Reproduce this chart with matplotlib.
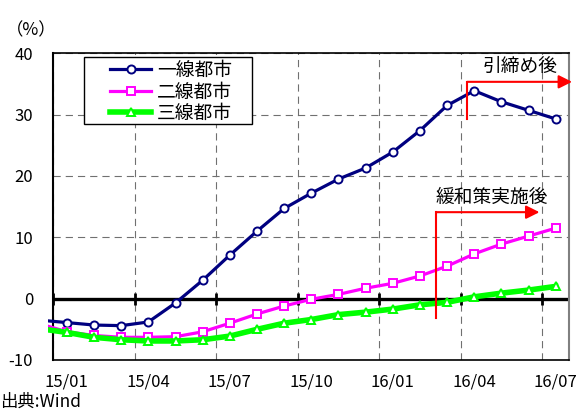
import matplotlib
matplotlib.use('Agg')
import matplotlib.pyplot as plt
import numpy as np
from matplotlib.patches import Rectangle
from matplotlib.ticker import FixedLocator, FixedFormatter, NullFormatter

plt.rcParams['font.family'] = ['Noto Sans CJK JP', 'DejaVu Sans']
plt.rcParams['axes.unicode_minus'] = False

# ---- data ----
months = ['14/12', '15/01', '15/02', '15/03', '15/04', '15/05', '15/06', '15/07',
          '15/08', '15/09', '15/10', '15/11', '15/12', '16/01', '16/02',
          '16/03', '16/04', '16/05', '16/06', '16/07']
tier1 = [-3.5, -3.9, -4.3, -4.4, -3.8, -0.7, 3.0, 7.1, 11.0, 14.7, 17.2, 19.5,
         21.3, 23.9, 27.4, 31.5, 33.9, 32.1, 30.7, 29.3]
tier2 = [-4.1, -5.4, -6.0, -6.3, -6.3, -6.2, -5.4, -4.0, -2.5, -1.2, -0.1, 0.7,
         1.7, 2.5, 3.7, 5.3, 7.3, 8.9, 10.2, 11.5]
tier3 = [-4.9, -5.5, -6.3, -6.7, -6.9, -6.9, -6.7, -6.1, -5.0, -4.0, -3.4, -2.6,
         -2.2, -1.7, -1.0, -0.6, 0.3, 0.9, 1.4, 2.0]
series_names = ['一線都市', '二線都市', '三線都市']
y_ticks = [-10, 0, 10, 20, 30, 40]
y_tick_labels = ['-10', '0', '10', '20', '30', '40']

# annotation positions (in data units)
ann_tighten = dict(label='引締め後', x=15.25, y0=29.3, y1=35.35, tip=19.1, tx=17.2, ty=37.8)
ann_ease = dict(label='緩和策実施後', x=14.1, y0=-3.1, y1=14.1, tip=17.9, tx=16.15, ty=16.5)

# ---- figure ----
fig = plt.figure(figsize=(5.87, 4.11), dpi=100)
ax = fig.add_axes([0.0908, 0.1241, 0.8791, 0.7462])

n = len(months)
x = np.arange(n) - 0.5
ax.set_xlim(0, n - 1)
ax.set_ylim(y_ticks[0], y_ticks[-1])

# extended clip region (lines run slightly past the left spine)
clip_rect = Rectangle((-0.011, 0), 1.011, 1, transform=ax.transAxes,
                      facecolor='none', edgecolor='none')
ax.add_patch(clip_rect)

styles = [
    dict(color='#000080', lw=2.3, marker='o', ms=5.8, mfc='white', mec='#000080', mew=1.4),
    dict(color='#FF00FF', lw=2.3, marker='s', ms=5.8, mfc='white', mec='#FF00FF', mew=1.4),
    dict(color='#00FF00', lw=4.0, marker='^', ms=6.0, mfc='white', mec='#00FF00', mew=1.4),
]

# zero line with tick marks at category boundaries
boundaries = list(range(0, n, 3))
ax.axhline(0, color='black', lw=2.4, zorder=2)
ax.plot(boundaries, [0] * len(boundaries), linestyle='none', marker='|', ms=8,
        mew=2.0, color='black', zorder=2, clip_on=False)

handles = []
for vals, name, st in zip([tier1, tier2, tier3], series_names, styles):
    ln, = ax.plot(x, vals, label=name, zorder=3, **st)
    ln.set_clip_path(clip_rect)
    handles.append(ln)

# grid: category boundaries every 3 months, and y ticks
ax.xaxis.set_major_locator(FixedLocator(boundaries))
ax.xaxis.set_major_formatter(NullFormatter())
ax.xaxis.set_minor_locator(FixedLocator(list(x[1::3])))
ax.xaxis.set_minor_formatter(FixedFormatter(months[1::3]))
ax.set_yticks(y_ticks)
ax.set_yticklabels(y_tick_labels)
ax.tick_params(axis='both', which='both', length=0, labelsize=12, colors='black')
ax.tick_params(axis='x', which='minor', pad=10)
ax.tick_params(axis='y', pad=14.5)
ax.grid(True, which='major', color='#707070', linestyle=(0, (6.5, 4.5)), linewidth=0.8)
ax.set_axisbelow(True)

for side in ['left', 'top', 'bottom']:
    ax.spines[side].set_color('black')
ax.spines['left'].set_linewidth(1.5)
ax.spines['top'].set_linewidth(1.2)
ax.spines['bottom'].set_linewidth(1.2)
ax.spines['right'].set_color('#808080')
ax.spines['right'].set_linewidth(1.5)

# red arrows
for a in [ann_tighten, ann_ease]:
    ax.plot([a['x'], a['x']], [a['y0'], a['y1']], color='red', lw=1.5,
            solid_capstyle='projecting', clip_on=False, zorder=4)
    ax.annotate('', xy=(a['tip'], a['y1']), xytext=(a['x'], a['y1']),
                arrowprops=dict(arrowstyle='-|>,head_length=0.4,head_width=0.2',
                                color='red', lw=1.5, shrinkA=0, shrinkB=0,
                                mutation_scale=20),
                annotation_clip=False, zorder=4)
    ax.text(a['tx'], a['ty'], a['label'], ha='center', va='center', fontsize=13.5,
            zorder=4)

# legend with custom frame
frame = Rectangle((0.0595, 0.770), 0.3255, 0.218, transform=ax.transAxes,
                  facecolor='white', edgecolor='black', lw=1.0, zorder=4)
ax.add_patch(frame)
leg = ax.legend(handles, series_names, loc='upper left', bbox_to_anchor=(0.110, 0.978),
                frameon=False, borderpad=0, borderaxespad=0, handlelength=2.2,
                handletextpad=0.3, labelspacing=0.02, fontsize=13.5)
leg.set_zorder(5)

# outer texts
fig.text(31.5 / 587, 1 - 30 / 411, '（%）', ha='center', va='center', fontsize=12.5)
fig.text(0.0, 1 - 401.7 / 411, '出典:Wind', ha='left', va='center', fontsize=12.5)

fig.savefig('out.png', dpi=100)
